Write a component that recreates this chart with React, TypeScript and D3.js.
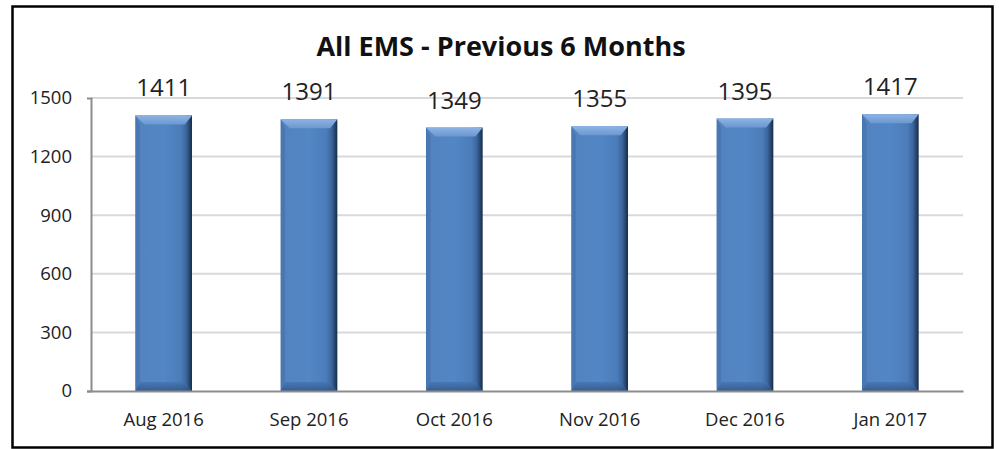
import { useEffect, useRef } from "react";
import * as d3 from "d3";

const width = 999;
const height = 449;
const margin = { top: 98, right: 36, bottom: 58, left: 91 };

const months = ["Aug 2016", "Sep 2016", "Oct 2016", "Nov 2016", "Dec 2016", "Jan 2017"];
const emsCounts = [1411, 1391, 1349, 1355, 1395, 1417];
const yTicks = [0, 300, 600, 900, 1200, 1500];
const title = "All EMS - Previous 6 Months";

const font = "'Open Sans', 'DejaVu Sans', sans-serif";

function App() {
  const d3Node = useRef(null);

  useEffect(() => {
    document.body.style.margin = "0";
    const root = d3.select(d3Node.current);
    root.selectAll("svg").remove();

    const svg = root
      .append("svg")
      .attr("width", width)
      .attr("height", height)
      .attr("viewBox", [0, 0, width, height])
      .style("display", "block")
      .style("background", "#fff");

    const innerW = width - margin.left - margin.right;
    const innerH = height - margin.top - margin.bottom;

    const defs = svg.append("defs");
    const face = defs.append("linearGradient").attr("id", "face").attr("x1", 0).attr("x2", 1).attr("y1", 0).attr("y2", 0);
    face.append("stop").attr("offset", "0").attr("stop-color", "#5383c0");
    face.append("stop").attr("offset", "0.5").attr("stop-color", "#5286c4");
    face.append("stop").attr("offset", "0.8").attr("stop-color", "#4c7dba");
    face.append("stop").attr("offset", "0.9").attr("stop-color", "#3a659c");
    face.append("stop").attr("offset", "1").attr("stop-color", "#172c48");
    const topG = defs.append("linearGradient").attr("id", "topBevel").attr("x1", 0).attr("x2", 0).attr("y1", 0).attr("y2", 1);
    topG.append("stop").attr("offset", "0").attr("stop-color", "#8cb3e3");
    topG.append("stop").attr("offset", "1").attr("stop-color", "#6c98d0");
    const botG = defs.append("linearGradient").attr("id", "botBevel").attr("x1", 0).attr("x2", 0).attr("y1", 0).attr("y2", 1);
    botG.append("stop").attr("offset", "0").attr("stop-color", "#4574b0");
    botG.append("stop").attr("offset", "1").attr("stop-color", "#2d5081");

    // outer frame
    svg.append("rect")
      .attr("x", 12.5).attr("y", 6.5)
      .attr("width", 980).attr("height", 441)
      .attr("fill", "none")
      .attr("stroke", "#000")
      .attr("stroke-width", 2.5);

    svg.append("text")
      .attr("x", 501).attr("y", 56)
      .attr("text-anchor", "middle")
      .attr("font-family", font)
      .attr("font-weight", "bold")
      .attr("font-size", 27)
      .attr("fill", "#111")
      .text(title);

    const x = d3.scaleBand()
      .domain(months)
      .range([0, innerW])
      .paddingInner(0.61)
      .paddingOuter(0.305);
    const y = d3.scaleLinear().domain([0, 1500]).range([innerH, 0]);

    const g = svg.append("g").attr("transform", "translate(" + margin.left + "," + margin.top + ")");

    // gridlines
    g.selectAll(".grid")
      .data(yTicks.filter((d) => d > 0))
      .enter()
      .append("line")
      .attr("x1", 0).attr("x2", innerW)
      .attr("y1", (d) => y(d)).attr("y2", (d) => y(d))
      .attr("stroke", "#d9d9d9")
      .attr("stroke-width", 2);

    // y axis
    const yAxis = g.append("g").call(
      d3.axisLeft(y).tickValues(yTicks).tickFormat(d3.format("d")).tickSize(4).tickPadding(15)
    );
    yAxis.select(".domain").attr("stroke", "#8c8c8c").attr("stroke-width", 2);
    yAxis.selectAll(".tick line").attr("stroke", "#8c8c8c").attr("stroke-width", 2).attr("opacity", (d) => (d === 0 ? 1 : 0));
    yAxis.selectAll("text").attr("font-family", font).attr("font-size", 18.5).attr("fill", "#222");

    // bars
    const b = 9;
    const bars = g.selectAll(".bar").data(emsCounts).enter().append("g");
    bars.each(function (d, i) {
      const bx = x(months[i]);
      const bw = x.bandwidth();
      const by = y(d);
      const bh = innerH - by;
      const s = d3.select(this);
      s.append("rect").attr("x", bx).attr("y", by).attr("width", bw).attr("height", bh).attr("fill", "url(#face)");
      s.append("polygon")
        .attr("points", [[bx, by], [bx + bw, by], [bx + bw - b * 0.8, by + b], [bx + b, by + b]].join(" "))
        .attr("fill", "url(#topBevel)");
      s.append("polygon")
        .attr("points", [[bx, by], [bx + b * 0.5, by + b], [bx + b * 0.5, by + bh - b], [bx, by + bh]].join(" "))
        .attr("fill", "#3f6ba4").attr("opacity", 0.5);
      s.append("polygon")
        .attr("points", [[bx, by + bh], [bx + bw, by + bh], [bx + bw - b * 0.8, by + bh - b], [bx + b * 0.5, by + bh - b]].join(" "))
        .attr("fill", "url(#botBevel)").attr("opacity", 0.75);
    });

    // value labels
    g.selectAll(".lbl")
      .data(emsCounts)
      .enter()
      .append("text")
      .attr("x", (d, i) => x(months[i]) + x.bandwidth() / 2)
      .attr("y", (d) => y(d) - 19)
      .attr("text-anchor", "middle")
      .attr("font-family", font)
      .attr("font-size", 24)
      .attr("fill", "#222")
      .text((d) => d);

    // x axis
    const xAxis = g.append("g")
      .attr("transform", "translate(0," + innerH + ")")
      .call(d3.axisBottom(x).tickSize(0).tickPadding(22));
    xAxis.select(".domain").attr("stroke", "#8c8c8c").attr("stroke-width", 2);
    xAxis.selectAll("text").attr("font-family", font).attr("font-size", 18.5).attr("fill", "#222");
  }, []);

  return <div ref={d3Node} />;
}

export default App;
